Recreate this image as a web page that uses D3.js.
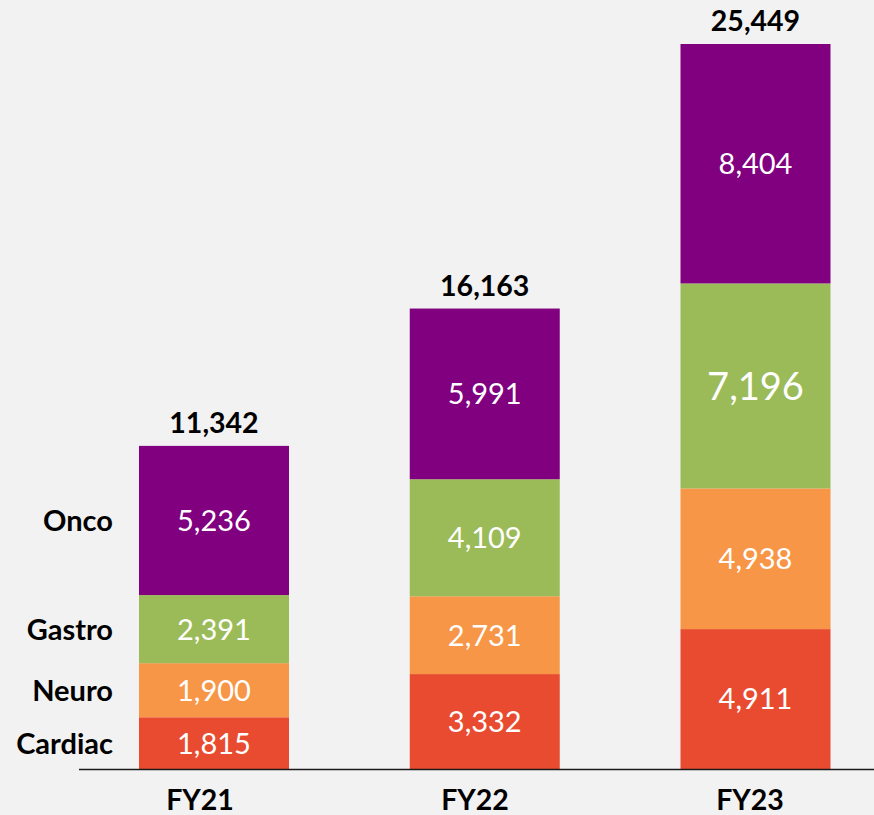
<!DOCTYPE html>
<html>
<head>
<meta charset="utf-8">
<script src="https://cdn.jsdelivr.net/npm/d3@7"></script>
<style>
    body { margin: 0; background: #f2f2f2; }
    svg { display: block; }
    text { font-family: Lato, "Open Sans", sans-serif; }
</style>
</head>
<body>
<div id="chartArea"><svg></svg></div>
<script>
// data
var years = ["FY21", "FY22", "FY23"];
var segmentNames = ["Cardiac", "Neuro", "Gastro", "Onco"];
var bottomSeg = [1815, 3332, 4911];
var secondSeg = [1900, 2731, 4938];
var thirdSeg = [2391, 4109, 7196];
var topSeg = [5236, 5991, 8404];
var totals = [11342, 16163, 25449];

var colors = ["#e94b30", "#f79646", "#9bbb59", "#800080"];

var width = 874, height = 815;

var svg = d3.select("#chartArea").select("svg")
    .attr("width", width)
    .attr("height", height);

svg.append("rect")
    .attr("width", width)
    .attr("height", height)
    .attr("fill", "#f2f2f2");

// one row per year for d3.stack
var rows = years.map(function (y, i) {
    return {year: y, s0: bottomSeg[i], s1: secondSeg[i], s2: thirdSeg[i], s3: topSeg[i], total: totals[i]};
});
var keys = ["s0", "s1", "s2", "s3"];
var series = d3.stack().keys(keys)(rows);

var x = d3.scaleBand()
    .domain(years)
    .range([139, 830.5])
    .paddingInner(0.446)
    .paddingOuter(0);

// the category labels sit a bit left of the bar centres in the original
var xLabel = d3.scalePoint()
    .domain(years)
    .range([200, 750]);

var y = d3.scaleLinear()
    .domain([0, d3.max(totals)])
    .range([769, 44]);

var layers = svg.selectAll("g.layer")
    .data(series)
    .enter().append("g")
    .attr("class", "layer")
    .attr("fill", function (d, i) { return colors[i]; });

layers.selectAll("rect")
    .data(function (d) { return d; })
    .enter().append("rect")
    .attr("x", function (d) { return x(d.data.year); })
    .attr("y", function (d) { return y(d[1]); })
    .attr("width", x.bandwidth())
    .attr("height", function (d) { return y(d[0]) - y(d[1]); });

// values inside the segments
var fmt = d3.format(",");
layers.selectAll("text")
    .data(function (d) {
        return d.map(function (p) { return {p: p, key: d.key}; });
    })
    .enter().append("text")
    .attr("x", function (d) { return x(d.p.data.year) + x.bandwidth() / 2; })
    .attr("y", function (d) { return (y(d.p[0]) + y(d.p[1])) / 2; })
    .attr("dy", "0.36em")
    .attr("text-anchor", "middle")
    .attr("fill", "white")
    .style("font-size", function (d) {
        return (d.key === "s2" && d.p.data.year === "FY23") ? "38px" : "29px";
    })
    .text(function (d) { return fmt(d.p.data[d.key]); });

// totals on top
svg.selectAll("text.total")
    .data(rows)
    .enter().append("text")
    .attr("class", "total")
    .attr("x", function (d) { return x(d.year) + x.bandwidth() / 2; })
    .attr("y", function (d) { return y(d.total) - 13; })
    .attr("text-anchor", "middle")
    .style("font-size", "28.5px")
    .style("font-weight", "bold")
    .attr("fill", "black")
    .text(function (d) { return fmt(d.total); });

// segment names next to the first bar
var first = series.map(function (s) { return s[0]; });
svg.selectAll("text.segName")
    .data(segmentNames)
    .enter().append("text")
    .attr("class", "segName")
    .attr("x", 113)
    .attr("y", function (d, i) { return (y(first[i][0]) + y(first[i][1])) / 2; })
    .attr("dy", "0.36em")
    .attr("text-anchor", "end")
    .style("font-size", "29px")
    .style("font-weight", "bold")
    .attr("fill", "black")
    .text(function (d) { return d; });

// baseline
svg.append("line")
    .attr("x1", 79)
    .attr("x2", width)
    .attr("y1", y(0) + 0.5)
    .attr("y2", y(0) + 0.5)
    .attr("stroke", "#1a1a1a")
    .attr("stroke-width", 1.6);

svg.selectAll("text.year")
    .data(years)
    .enter().append("text")
    .attr("class", "year")
    .attr("x", function (d) { return xLabel(d); })
    .attr("y", 810)
    .attr("text-anchor", "middle")
    .style("font-size", "28.5px")
    .style("font-weight", "bold")
    .attr("fill", "black")
    .text(function (d) { return d; });
</script>
</body>
</html>
